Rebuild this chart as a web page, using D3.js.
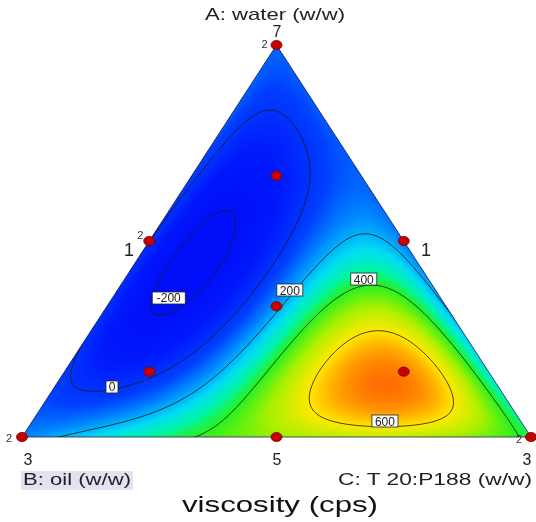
<!DOCTYPE html>
<html><head><meta charset="utf-8">
<script src="https://cdn.jsdelivr.net/npm/d3@7"></script>
<style>
body{margin:0;background:#fff}
#wrap{position:relative;width:536px;height:522px}
canvas,svg{position:absolute;left:0;top:0}
text{font-family:"Liberation Sans",Arial,sans-serif}
</style>
</head><body><div id="wrap"><canvas id="cv" width="536" height="522"></canvas><svg id="sv" width="536" height="522"></svg></div>
<script>
// ---------- data ----------
// design points (pseudo-component fractions) A: water, B: oil, C: T20:P188
const pointA = [1, 0, 0, 0.5, 0.5, 0, 1/3, 2/3, 1/6, 1/6];
const pointB = [0, 1, 0, 0.5, 0, 0.5, 1/3, 1/6, 2/3, 1/6];
const pointC = [0, 0, 1, 0, 0.5, 0.5, 1/3, 1/6, 1/6, 2/3];
const pointViscosity = [100, 150, 380, 30, 160, 500, 200, -140, -50, 690];
const pointReplicates = [2, 2, 2, 2, 1, 1, 1, 1, 1, 1];
// surface readings taken off the contour plot (A, C, viscosity)
const readA = [0.43, 0.17, 0.829, 0.707, 0.426, 0.128, 0.189, 0, 0.125, 0.23, 0.383, 0.51, 0.459, 0, 0.388, 0.298, 0.306, 0.23, 0.367, 0.112, 0.087, 0.031, 0.27, 0.533, 0.31];
const readC = [0.14, 0.62, 0.078, 0.212, 0.268, 0.113, 0.023, 0.104, 0.273, 0.339, 0.325, 0.408, 0.5185, 0.336, 0.484, 0.422, 0.6226, 0.7397, 0.5586, 0.519, 0.807, 0.727, 0.5425, 0.108, 0.05];
const readV = [-260, 720, 0, 0, 0, 0, 0, 200, 200, 200, 200, 200, 200, 400, 400, 400, 400, 400, 400, 600, 600, 600, 600, -200, -200];
const contourLevels = [-200, 0, 200, 400, 600];
const labelA = [0.3546, 0.1276, 0.375, 0.403, 0.0408];
const labelC = [0.111, 0.113, 0.3387, 0.470, 0.6927];
const labelText = ["-200", "0", "200", "400", "600"];
const tickLabels = ["7", "3", "3", "1", "1", "5"]; // at A vertex, B vertex, C vertex, AB mid, AC mid, BC mid
const titleA = "A: water (w/w)", titleB = "B: oil (w/w)", titleC = "C:  T 20:P188 (w/w)";
const responseTitle = "viscosity (cps)";

// ---------- model fit (Scheffé special quartic + full cubic) ----------
function basis(a,b,c){return [a,b,c,a*b,a*c,b*c,a*b*(a-b),a*c*(a-c),b*c*(b-c),a*a*b*c,a*b*b*c,a*b*c*c];}
const rows=[], ys=[];
pointA.forEach((a,i)=>{rows.push(basis(a,pointB[i],pointC[i]));ys.push(pointViscosity[i]);});
readA.forEach((a,i)=>{const c=readC[i];rows.push(basis(a,1-a-c,c));ys.push(readV[i]);});
const P=rows[0].length;
const M=Array.from({length:P},()=>new Array(P+1).fill(0));
rows.forEach((r,k)=>{for(let i=0;i<P;i++){for(let j=0;j<P;j++)M[i][j]+=r[i]*r[j];M[i][P]+=r[i]*ys[k];}});
for(let i=0;i<P;i++)M[i][i]+=1e-9;
for(let i=0;i<P;i++){let p=i;for(let r=i+1;r<P;r++)if(Math.abs(M[r][i])>Math.abs(M[p][i]))p=r;[M[i],M[p]]=[M[p],M[i]];
 for(let r=0;r<P;r++){if(r===i)continue;const f=M[r][i]/M[i][i];for(let j=i;j<=P;j++)M[r][j]-=f*M[i][j];}}
const beta=M.map((r,i)=>r[P]/r[i]);
function model(a,b,c){const v=basis(a,b,c);let s=0;for(let i=0;i<P;i++)s+=v[i]*beta[i];return s;}

// ---------- scales ----------
const x=d3.scaleLinear().domain([0,1]).range([22,531]);
const y=d3.scaleLinear().domain([0,1]).range([437,45]);
const pos=(a,b,c)=>[x(c+a/2),y(a)];
const color=d3.scaleLinear()
 .domain([-300,-100,50,150,250,330,400,500,600,680,740])
 .range(["#0008f8","#0018fc","#0040ff","#0088ff","#00dcf4","#00f4a8","#28f020","#a8f000","#ffe800","#ff9800","#ff6000"])
 .interpolate(d3.interpolateRgb).clamp(true);

// ---------- fill ----------
const cv=document.getElementById("cv"),ctx=cv.getContext("2d");
const img=ctx.createImageData(536,522);
for(let py=40;py<=440;py++)for(let px=18;px<=535;px++){
 const a=y.invert(py+0.5),c=x.invert(px+0.5)-a/2,b=1-a-c;
 if(a<0||b<0||c<0)continue;
 const col=d3.rgb(color(model(a,b,c)));const k=(py*536+px)*4;
 img.data[k]=col.r;img.data[k+1]=col.g;img.data[k+2]=col.b;img.data[k+3]=255;}
ctx.putImageData(img,0,0);

// ---------- svg ----------
const svg=d3.select("#sv");
const tri=[pos(1,0,0),pos(0,1,0),pos(0,0,1)];
svg.append("clipPath").attr("id","tc").append("path").attr("d","M"+tri.join("L")+"Z");
const step=2,x0=18,y0=40,nx=Math.ceil(518/step)+1,ny=Math.ceil(402/step)+1;
const vals=new Array(nx*ny);
for(let j=0;j<ny;j++)for(let i=0;i<nx;i++){const px=x0+i*step,py=y0+j*step;const a=y.invert(py),c=x.invert(px)-a/2;vals[j*nx+i]=model(a,1-a-c,c);}
const cont=d3.contours().size([nx,ny]).thresholds(contourLevels)(vals);
const gp=d3.geoPath(d3.geoTransform({point(px,py){this.stream.point(x0+(px-0.5)*step,y0+(py-0.5)*step);}}));
svg.append("g").attr("clip-path","url(#tc)").selectAll("path").data(cont).join("path")
 .attr("d",gp).attr("fill","none").attr("stroke","#1a1a1a").attr("stroke-width",0.8);
svg.append("path").attr("d","M"+tri.join("L")+"Z").attr("fill","none").attr("stroke","#20204a").attr("stroke-width",0.8);

// contour labels
const lg=svg.append("g");
labelText.forEach((t,i)=>{const [lx,ly]=pos(labelA[i],1-labelA[i]-labelC[i],labelC[i]);
 const w=t.length*7+5;
 lg.append("rect").attr("x",lx-w/2).attr("y",ly-6).attr("width",w).attr("height",12).attr("fill","#fff").attr("stroke","#222").attr("stroke-width",0.8);
 lg.append("text").attr("x",lx).attr("y",ly+4.5).attr("text-anchor","middle").attr("font-size",12).attr("fill","#222").text(t);});

// design points
pointA.forEach((a,i)=>{const [px,py]=pos(a,pointB[i],pointC[i]);
 svg.append("ellipse").attr("cx",px).attr("cy",py).attr("rx",5.5).attr("ry",4.6).attr("fill","#c80000").attr("stroke","#700000").attr("stroke-width",0.8);});

// replicate counts
const repOff=[[-12,3],[-13,5],[-12,6],[-9,-2]];
let ri=0;
pointA.forEach((a,i)=>{if(pointReplicates[i]>1){const [px,py]=pos(a,pointB[i],pointC[i]);const o=repOff[ri++];
 svg.append("text").attr("x",px+o[0]).attr("y",py+o[1]).attr("font-size",11).attr("fill","#333").attr("text-anchor","middle").text(pointReplicates[i]);}});

// tick labels
const tickPos=[[277,37],[28,465],[527,465],[129,256],[426,256],[277,465]];
tickLabels.forEach((t,i)=>svg.append("text").attr("x",tickPos[i][0]).attr("y",tickPos[i][1]).attr("text-anchor","middle").attr("font-size",i>=3&&i<=4?18:16).attr("fill","#222").text(t));

// titles
svg.append("text").attr("x",205).attr("y",20).attr("font-size",17).attr("textLength",140).attr("lengthAdjust","spacingAndGlyphs").attr("fill","#222").text(titleA);
svg.append("rect").attr("x",21).attr("y",471).attr("width",112).attr("height",19).attr("fill","#e2e2f0");
svg.append("text").attr("x",23).attr("y",485).attr("font-size",17).attr("textLength",108).attr("lengthAdjust","spacingAndGlyphs").attr("fill","#222").text(titleB);
svg.append("text").attr("x",338).attr("y",485).attr("font-size",17).attr("textLength",194).attr("lengthAdjust","spacingAndGlyphs").attr("fill","#222").text(titleC);
svg.append("text").attr("x",182).attr("y",512).attr("font-size",22).attr("textLength",196).attr("lengthAdjust","spacingAndGlyphs").attr("fill","#111").text(responseTitle);
</script></body></html>
